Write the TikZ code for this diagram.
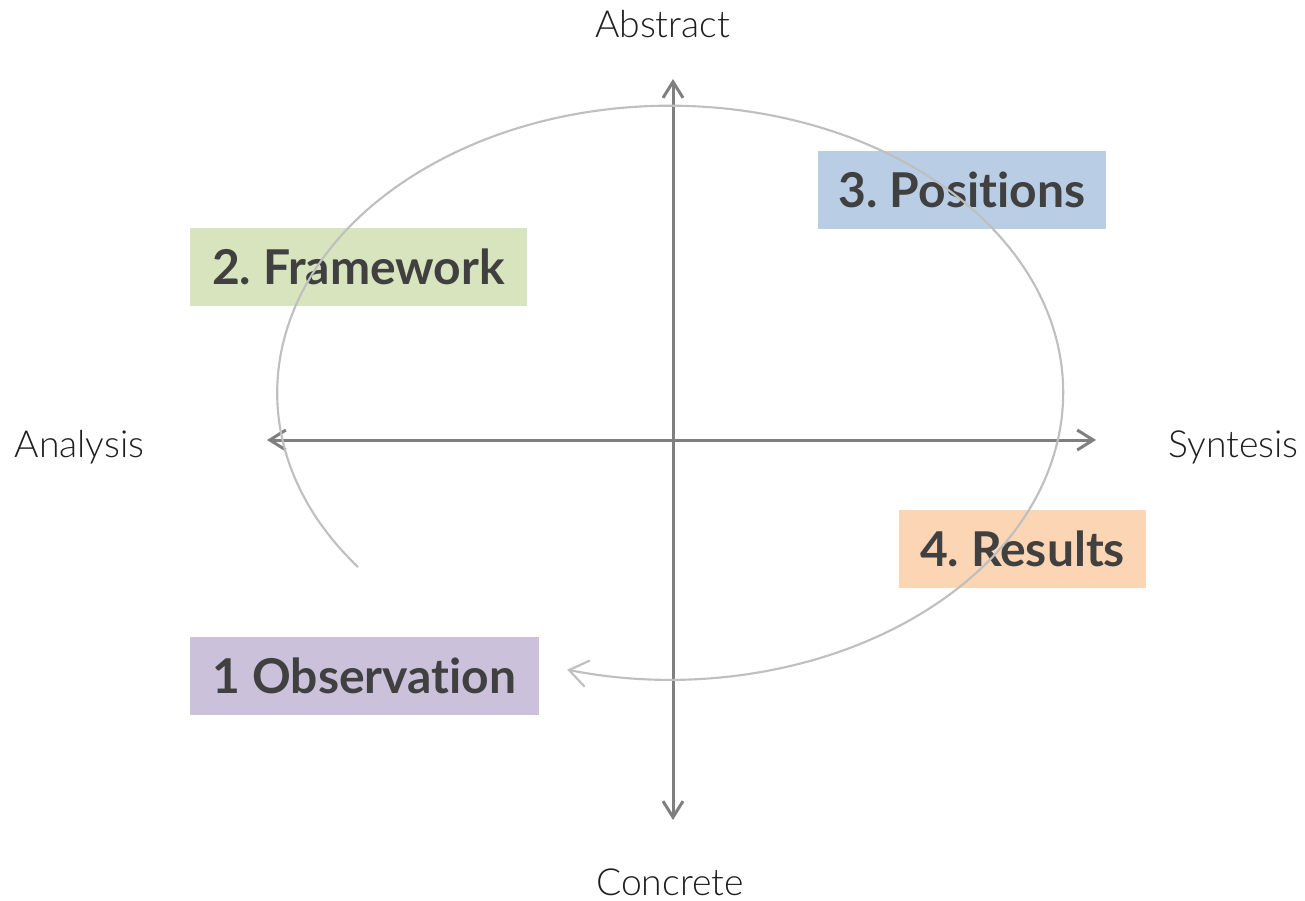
\documentclass[tikz,border=0pt]{standalone}
\usepackage{fontspec}
\setmainfont{Lato}[Ligatures={CommonOff,ContextualOff,RareOff}]
\newfontfamily\lightfont{Lato Light}[Ligatures={CommonOff,ContextualOff,RareOff}]
\usetikzlibrary{arrows.meta}
\definecolor{axisgray}{HTML}{7F7F7F}
\definecolor{loopgray}{HTML}{BFBFBF}
\definecolor{textgray}{HTML}{404040}
\definecolor{obsfill}{HTML}{CCC1DA}
\definecolor{frmfill}{HTML}{D7E4BD}
\definecolor{posfill}{HTML}{B9CDE5}
\definecolor{resfill}{HTML}{FCD5B5}
\frenchspacing
\begin{document}
\begin{tikzpicture}[x=0.75pt, y=-0.75pt,
    stage/.style={inner sep=0pt, minimum height=58.5pt, text=textgray,
      font=\fontsize{36}{40}\selectfont\bfseries},
    pole/.style={anchor=base, text=black!88, font=\lightfont\fontsize{28}{32}\selectfont},
    axis/.style={draw=axisgray, line width=2.25pt,
      {Straight Barb[length=12pt, width=15pt]}-{Straight Barb[length=12pt, width=15pt]}}]
  \useasboundingbox (0,0) rectangle (1305,900);
  % axes
  \coordinate (top) at (673,79);
  \coordinate (bottom) at (673,820);
  \coordinate (left) at (267,440);
  \coordinate (right) at (1096,440);
  \draw[axis] (bottom) -- (top);
  \draw[axis] (left) -- (right);
  \node[pole] (abstract) at (662.5,37){Abstract};
  \node[pole] (concrete) at (670,895){Concrete};
  \node[pole] (analysis) at (79.5,457){Analysis};
  \node[pole] (syntesis) at (1233.5,457){Syntesis};
  % stages
  \node[stage, fill=obsfill, minimum width=261.75pt] (obs) at (364.5,676){1 Observation};
  \node[stage, fill=frmfill, minimum width=252.75pt] (frm) at (358.5,267){2. Framework};
  \node[stage, fill=posfill, minimum width=216pt] (pos) at (962,190){3. Positions};
  \node[stage, fill=resfill, minimum width=185.25pt] (res) at (1022.5,548.5){4. Results};
  % loop
  \coordinate (start) at (358,567);
  \draw[draw=loopgray, line width=1.6pt, -{Straight Barb[length=14pt, width=20pt]}]
    (start) arc[start angle=142.6, end angle=465.2, x radius=393, y radius=287];
\end{tikzpicture}
\end{document}
